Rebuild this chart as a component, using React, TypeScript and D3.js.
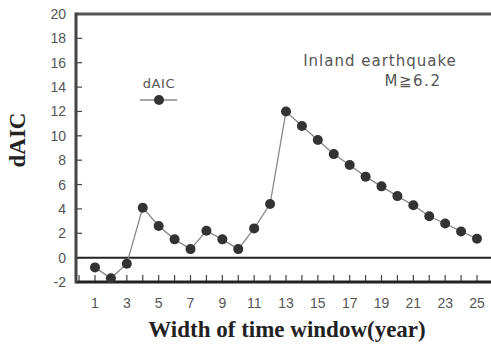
import React from "react";
import * as d3 from "d3";

const windows = [1,2,3,4,5,6,7,8,9,10,11,12,13,14,15,16,17,18,19,20,21,22,23,24,25];
const dAIC = [-0.8,-1.7,-0.5,4.1,2.6,1.5,0.7,2.2,1.5,0.7,2.4,4.4,12.0,10.8,9.65,8.5,7.6,6.65,5.85,5.05,4.3,3.4,2.8,2.15,1.55];
const yTicks = [-2,0,2,4,6,8,10,12,14,16,18,20];
const xLabels = [1,3,5,7,9,11,13,15,17,19,21,23,25];

export default function App() {
  const W = 491, H = 346;
  const x = d3.scaleLinear().domain([1, 25]).range([95, 477]);
  const y = d3.scaleLinear().domain([-2, 20]).range([282, 14]);
  const left = 76, right = 491;
  const line = d3.line<number>().x((_, i) => x(windows[i])).y(d => y(d));
  const xTickVals = d3.range(0, 27);
  return (
    <svg width={W} height={H} style={{ position: "absolute", left: 0, top: 0, background: "#fff" }}>
      {yTicks.map(t => (
        <g key={t}>
          <line x1={left} x2={left + 6} y1={y(t)} y2={y(t)} stroke="#444" strokeWidth={1.2} />
          <text x={66} y={y(t) + 5} textAnchor="end" fontFamily="Liberation Sans, Arial, sans-serif" fontSize={14} fill="#555">{t}</text>
        </g>
      ))}
      {xTickVals.map(t => (
        <line key={t} x1={x(t)} x2={x(t)} y1={282} y2={275} stroke="#444" strokeWidth={1.2} />
      ))}
      {xLabels.map(t => (
        <text key={t} x={x(t)} y={308} textAnchor="middle" fontFamily="Liberation Sans, Arial, sans-serif" fontSize={14} fill="#555">{t}</text>
      ))}
      <line x1={left} x2={right} y1={y(0)} y2={y(0)} stroke="#222" strokeWidth={2} />
      <line x1={left} x2={right} y1={14} y2={14} stroke="#555" strokeWidth={3} />
      <line x1={left} x2={right} y1={282} y2={282} stroke="#222" strokeWidth={3} />
      <line x1={left} x2={left} y1={12.5} y2={283.5} stroke="#444" strokeWidth={3} />
      <path d={line(dAIC) || ""} fill="none" stroke="#888" strokeWidth={1.3} />
      {dAIC.map((v, i) => (
        <circle key={i} cx={x(windows[i])} cy={y(v)} r={5} fill="#333" />
      ))}
      <text x={159} y={88} textAnchor="middle" fontFamily="DejaVu Sans, sans-serif" fontSize={13} letterSpacing={0.6} fill="#555">dAIC</text>
      <line x1={140} x2={177} y1={100} y2={100} stroke="#888" strokeWidth={1.3} />
      <circle cx={159} cy={100} r={5} fill="#333" />
      <text x={380} y={66} textAnchor="middle" fontFamily="DejaVu Sans, sans-serif" fontSize={15} letterSpacing={1} fill="#555">Inland earthquake</text>
      <text x={413} y={86} textAnchor="middle" fontFamily="DejaVu Sans, sans-serif" fontSize={15} letterSpacing={1.5} fill="#555">M≧6.2</text>
      <text x={287} y={337} textAnchor="middle" fontFamily="Liberation Serif, Times New Roman, serif" fontWeight="bold" fontSize={23} fill="#222">Width of time window(year)</text>
      <text transform={`translate(25,140) rotate(-90)`} textAnchor="middle" fontFamily="Liberation Serif, Times New Roman, serif" fontWeight="bold" fontSize={23} fill="#222">dAIC</text>
    </svg>
  );
}
